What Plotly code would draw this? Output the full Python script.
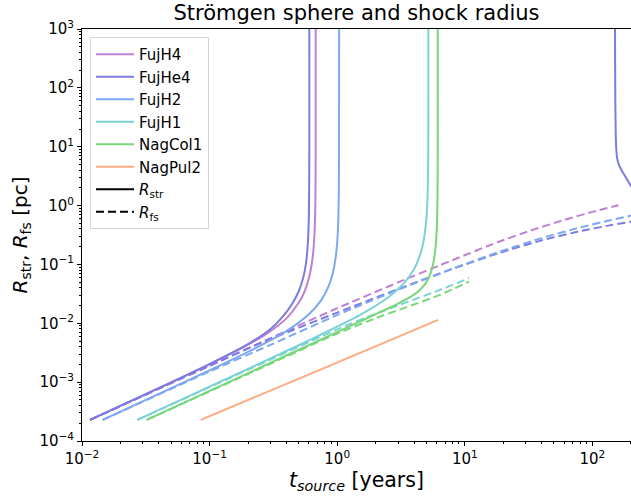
import plotly.graph_objects as go

# ---------------- data ----------------
names = ["FujH4", "FujHe4", "FujH2", "FujH1", "NagCol1", "NagPul2"]
colors = ["rgb(191,128,212)", "rgb(124,124,222)", "rgb(125,168,240)",
          "rgb(122,210,214)", "rgb(122,214,122)", "rgb(255,170,128)"]

# Strömgen radius R_str [pc] vs t_source [years]
t_str_FujH4 = [0.01155, 0.05, 0.1, 0.2, 0.3, 0.4, 0.5, 0.55, 0.6, 0.63, 0.65, 0.665, 0.675, 0.678, 0.6785]
r_str_FujH4 = [2.28e-4, 9.92e-4, 2.02e-3, 4.32e-3, 7.36e-3, 0.0121, 0.0225, 0.033, 0.058, 0.098, 0.17, 0.36, 1.3, 9.1, 1e4]

t_str_FujHe4 = [0.01155, 0.05, 0.1, 0.2, 0.3, 0.4, 0.45, 0.5, 0.54, 0.57, 0.59, 0.6, 0.604, 0.6049, 0.605,
                None,
                150.0, 150.4, 151.2, 152.5, 154.0, 156.0, 159.6, 166.0, 174.7, 191.0, 200.7, 215.0]
r_str_FujHe4 = [2.28e-4, 9.94e-4, 2.03e-3, 4.43e-3, 8.0e-3, 0.0155, 0.0225, 0.035, 0.058, 0.105, 0.25, 0.72, 3.6, 36.0, 1e4,
                None,
                1e4, 1000.0, 60.0, 15.0, 8.8, 6.6, 5.3, 4.3, 3.55, 2.57, 2.15, 1.7]

t_str_FujH2 = [0.01452, 0.1, 0.2, 0.4, 0.6, 0.75, 0.85, 0.92, 0.97, 1.0, 1.02, 1.03, 1.034, 1.035]
r_str_FujH2 = [2.28e-4, 1.585e-3, 3.26e-3, 7.38e-3, 0.0142, 0.0248, 0.041, 0.0688, 0.125, 0.236, 0.556, 1.68, 8.4, 1e4]

t_str_FujH1 = [0.02713, 0.1, 0.5, 1.5, 2.5, 3.3, 4.0, 4.5, 4.8, 5.0, 5.1, 5.16, 5.18, 5.185]
r_str_FujH1 = [2.28e-4, 8.4e-4, 4.24e-3, 0.01375, 0.0274, 0.0466, 0.083, 0.153, 0.282, 0.6, 1.32, 4.5, 22.5, 1e4]

t_str_NagCol1 = [0.03213, 0.1, 0.5, 1.5, 3.0, 4.0, 4.5, 5.0, 5.4, 5.7, 5.9, 6.0, 6.08, 6.12, 6.138, 6.143]
r_str_NagCol1 = [2.28e-4, 7.1e-4, 3.55e-3, 0.01065, 0.0216, 0.0307, 0.0378, 0.05, 0.071, 0.112, 0.195, 0.323, 0.72, 1.96, 8.95, 1e4]

t_str_NagPul2 = [0.0852, 0.73, 6.2]
r_str_NagPul2 = [2.28e-4, 1.62e-3, 0.01143]

# forward-shock radius R_fs [pc] vs t_source [years]
t_fs_FujH4 = [0.01155, 0.1, 0.3, 1.0, 3.0, 8.0, 18.0, 35.0, 60.0, 100.0, 160.0]
r_fs_FujH4 = [2.28e-4, 1.9e-3, 5.6e-3, 0.018, 0.0495, 0.118, 0.238, 0.394, 0.569, 0.781, 1.016]

t_fs_FujHe4 = [0.01155, 0.1, 0.25, 1.0, 3.0, 8.0, 19.0, 40.0, 80.0, 140.0, 200.0, 215.0]
r_fs_FujHe4 = [2.28e-4, 1.9e-3, 4.6e-3, 0.0152, 0.0382, 0.0839, 0.159, 0.256, 0.3675, 0.465, 0.529, 0.54]

t_fs_FujH2 = [0.01452, 0.1, 0.3, 1.0, 3.0, 8.0, 19.0, 40.0, 80.0, 140.0, 200.0, 215.0]
r_fs_FujH2 = [2.28e-4, 1.52e-3, 4.3e-3, 0.0138, 0.0371, 0.0846, 0.166, 0.2795, 0.424, 0.567, 0.671, 0.695]

t_fs_FujH1 = [0.02713, 0.3, 1.0, 2.0, 6.39, 10.8]
r_fs_FujH1 = [2.28e-4, 2.42e-3, 7.9e-3, 0.0145, 0.037, 0.0585]

t_fs_NagCol1 = [0.03213, 0.3, 1.0, 2.0, 6.39, 10.8]
r_fs_NagCol1 = [2.28e-4, 2.05e-3, 6.7e-3, 0.0122, 0.0304, 0.0512]

x_tickvals = [0.01, 0.1, 1, 10, 100]
x_ticktext = ["10<sup>−2</sup>", "10<sup>−1</sup>", "10<sup>0</sup>", "10<sup>1</sup>", "10<sup>2</sup>"]
y_tickvals = [1e-4, 1e-3, 1e-2, 1e-1, 1, 10, 100, 1000]
y_ticktext = ["10<sup>−4</sup>", "10<sup>−3</sup>", "10<sup>−2</sup>", "10<sup>−1</sup>",
              "10<sup>0</sup>", "10<sup>1</sup>", "10<sup>2</sup>", "10<sup>3</sup>"]

str_t = [t_str_FujH4, t_str_FujHe4, t_str_FujH2, t_str_FujH1, t_str_NagCol1, t_str_NagPul2]
str_r = [r_str_FujH4, r_str_FujHe4, r_str_FujH2, r_str_FujH1, r_str_NagCol1, r_str_NagPul2]
fs_t = [t_fs_FujH4, t_fs_FujHe4, t_fs_FujH2, t_fs_FujH1, t_fs_NagCol1, None]
fs_r = [r_fs_FujH4, r_fs_FujHe4, r_fs_FujH2, r_fs_FujH1, r_fs_NagCol1, None]

FONT = "DejaVu Sans"
LW = 2.0
DASH = "8px,4px"

fig = go.Figure()
for i, name in enumerate(names):
    fig.add_trace(go.Scatter(
        x=str_t[i], y=str_r[i], mode="lines", name=name,
        line=dict(color=colors[i], width=LW, shape="spline", smoothing=0.6),
        connectgaps=False, legendgroup=name, showlegend=True))
    if fs_t[i] is not None:
        fig.add_trace(go.Scatter(
            x=fs_t[i], y=fs_r[i], mode="lines", name=name + " fs",
            line=dict(color=colors[i], width=LW, dash=DASH, shape="spline", smoothing=0.6),
            legendgroup=name, showlegend=False))

fig.add_trace(go.Scatter(x=[None], y=[None], mode="lines", name="<i>R</i><sub>str</sub>",
                         line=dict(color="black", width=LW), legendgroup="str"))
fig.add_trace(go.Scatter(x=[None], y=[None], mode="lines", name="<i>R</i><sub>fs</sub>",
                         line=dict(color="black", width=LW, dash=DASH), legendgroup="fs"))

axis_common = dict(
    showgrid=False, zeroline=False, showline=True, linecolor="black", linewidth=1,
    ticks="outside", ticklen=4, tickwidth=1, tickcolor="black", automargin=False,
    tickfont=dict(family=FONT, size=15, color="black"),
    minor=dict(ticks="outside", ticklen=2, tickwidth=0.7, tickcolor="black", dtick="D1", showgrid=False),
)

fig.update_layout(
    width=631, height=501,
    margin=dict(l=82, r=0, t=29, b=60, autoexpand=False),
    paper_bgcolor="white", plot_bgcolor="white",
    font=dict(family=FONT, color="black"),
    title=dict(text="Strömgen sphere and shock radius", x=356.5 / 631, xanchor="center",
               y=1 - 13 / 501, yanchor="middle", yref="container",
               font=dict(family=FONT, size=21, color="black")),
    xaxis=dict(type="log", range=[-2, 2.3025], tickvals=x_tickvals, ticktext=x_ticktext,
               mirror=True,
               title=dict(text="<i>t<sub>source</sub></i> [years]", font=dict(family=FONT, size=20.5),
                          standoff=4),
               **axis_common),
    yaxis=dict(type="log", range=[-4, 3], tickvals=y_tickvals, ticktext=y_ticktext,
               title=dict(text="<i>R</i><sub>str</sub>, <i>R</i><sub>fs</sub> [pc]",
                          font=dict(family=FONT, size=20), standoff=6),
               **axis_common),
    legend=dict(x=0.0146, y=0.9806, xanchor="left", yanchor="top",
                bgcolor="rgba(255,255,255,0.8)", bordercolor="#d5d5d5", borderwidth=1,
                font=dict(family=FONT, size=15, color="black"), tracegroupgap=0,
                itemwidth=38),
)

fig.write_html("out.html", config={"displayModeBar": False},
               post_script="document.body.style.margin='0px';document.body.style.overflow='hidden';")
